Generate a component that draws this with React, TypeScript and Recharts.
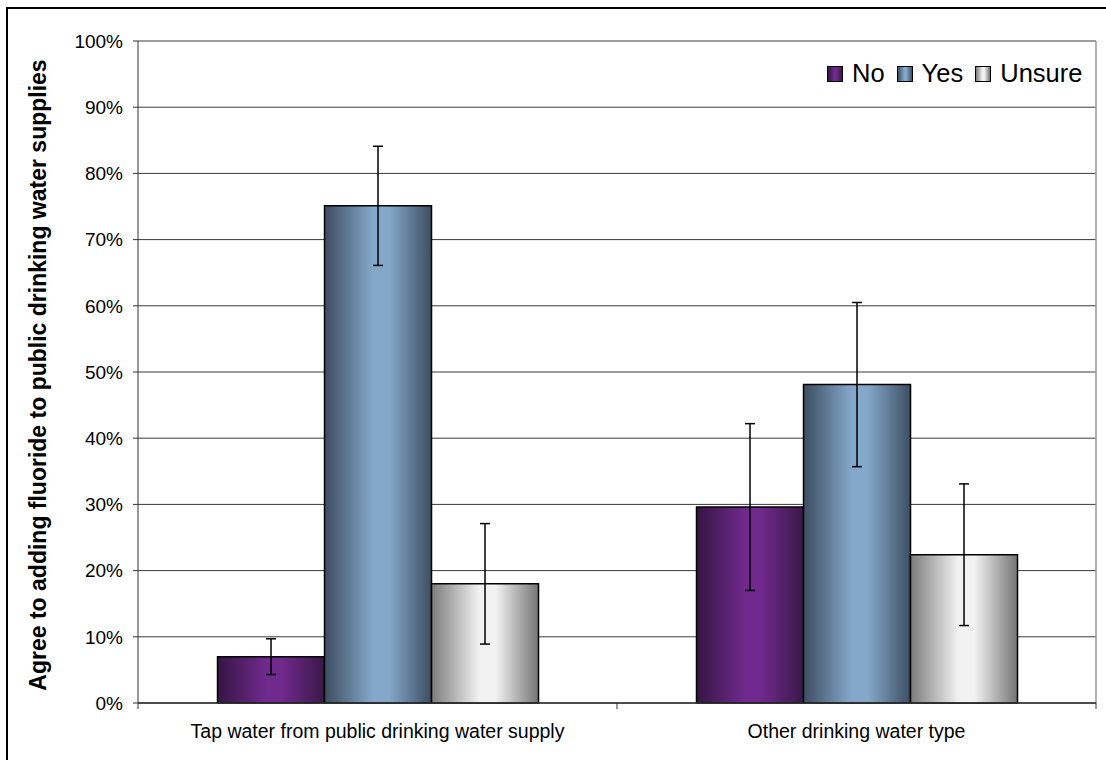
import React from "react";
import {
  BarChart,
  Bar,
  XAxis,
  YAxis,
  CartesianGrid,
  ErrorBar,
  Legend,
  Label,
} from "recharts";

const categories = [
  "Tap water from public drinking water supply",
  "Other drinking water type",
];
const noValues = [7.0, 29.6];
const yesValues = [75.1, 48.1];
const unsureValues = [18.0, 22.4];
const noErrors = [2.7, 12.6];
const yesErrors = [9.0, 12.4];
const unsureErrors = [9.1, 10.7];
const yTicks = [0, 10, 20, 30, 40, 50, 60, 70, 80, 90, 100];
const yAxisTitle = "Agree to adding fluoride to public drinking water supplies";

const seriesNames = ["No", "Yes", "Unsure"];

const data = categories.map((c, i) => ({
  category: c,
  No: noValues[i],
  Yes: yesValues[i],
  Unsure: unsureValues[i],
  noErr: [noErrors[i], noErrors[i]],
  yesErr: [yesErrors[i], yesErrors[i]],
  unsureErr: [unsureErrors[i], unsureErrors[i]],
}));

const FONT = '"Liberation Sans", Arial, sans-serif';

const gradients: Record<string, { edge: string; edge2: string; mid: string }> = {
  No: { edge: "#351543", edge2: "#3a1848", mid: "#70298d" },
  Yes: { edge: "#3d4d60", edge2: "#3d4e61", mid: "#84a8ca" },
  Unsure: { edge: "#7c7c7c", edge2: "#747474", mid: "#f2f2f2" },
};

const cssGrad = (k: string) =>
  `linear-gradient(to right, ${gradients[k].edge} 0%, ${gradients[k].mid} 45%, ${gradients[k].mid} 60%, ${gradients[k].edge2} 100%)`;

const CategoryTick = (props: any) => {
  const { x, y, payload, index } = props;
  const half = payload && payload.offset ? payload.offset : 0;
  return (
    <g>
      {index === 0 && (
        <line x1={x - half} x2={x - half} y1={y} y2={y + 6} stroke="#333" strokeWidth={1} />
      )}
      <line x1={x + half} x2={x + half} y1={y} y2={y + 6} stroke="#333" strokeWidth={1} />
      <text
        x={x}
        y={y + 35}
        textAnchor="middle"
        fontFamily={FONT}
        fontSize={19.5}
        fill="#000"
      >
        {payload.value}
      </text>
    </g>
  );
};

const LegendContent = () => (
  <div style={{ display: "flex", alignItems: "center", fontFamily: FONT, fontSize: 25.5, color: "#000", whiteSpace: "nowrap" }}>
    {seriesNames.map((n) => (
      <div key={n} style={{ display: "flex", alignItems: "center", marginRight: 12 }}>
        <div
          style={{
            width: 14,
            height: 14,
            border: "1px solid #000",
            background: cssGrad(n),
            marginRight: 9,
          }}
        />
        <span>{n}</span>
      </div>
    ))}
  </div>
);

const YTitle = (props: any) => {
  const vb = props.viewBox || { x: 0, y: 0, width: 0, height: 0 };
  const cx = vb.x + 38;
  const cy = vb.y + vb.height / 2 + 3;
  return (
    <text
      x={cx}
      y={cy}
      transform={`rotate(-90, ${cx}, ${cy})`}
      textAnchor="middle"
      dominantBaseline="central"
      fontFamily={FONT}
      fontWeight="bold"
      fontSize={23}
      fill="#000"
    >
      {yAxisTitle}
    </text>
  );
};

export default function App() {
  return (
    <div
      style={{
        position: "fixed",
        left: 0,
        top: 0,
        width: 1106,
        height: 760,
        overflow: "hidden",
        background: "#fff",
      }}
    >
      <div
        style={{
          position: "absolute",
          left: 6,
          top: 7,
          width: 1200,
          height: 900,
          border: "2px solid #000",
        }}
      />
      <div style={{ position: "absolute", left: 0, top: 0 }}>
        <BarChart
          width={1106}
          height={760}
          data={data}
          margin={{ top: 41, right: 10, bottom: 0, left: 0 }}
          barCategoryGap="16.6%"
          barGap={0}
        >
          <defs>
            {seriesNames.map((n) => (
              <linearGradient key={n} id={`grad-${n}`} x1="0" y1="0" x2="1" y2="0">
                <stop offset="0%" stopColor={gradients[n].edge} />
                <stop offset="45%" stopColor={gradients[n].mid} />
                <stop offset="60%" stopColor={gradients[n].mid} />
                <stop offset="100%" stopColor={gradients[n].edge2} />
              </linearGradient>
            ))}
          </defs>
          <CartesianGrid
            vertical={false}
            horizontal={true}
            stroke="#3a3a3a"
            strokeWidth={1}
          />
          <CartesianGrid
            vertical={true}
            horizontal={false}
            stroke="#999"
            strokeWidth={1.5}
            verticalCoordinatesGenerator={(p: any) =>
              p && p.offset ? [p.offset.left + p.offset.width] : []
            }
          />
          <XAxis
            dataKey="category"
            tickLine={false}
            tickSize={0}
            tickMargin={0}
            axisLine={{ stroke: "#333", strokeWidth: 1.5 }}
            tick={<CategoryTick />}
            interval={0}
            height={57}
          />
          <YAxis
            width={138}
            domain={[0, 100]}
            ticks={yTicks}
            tickFormatter={(v: number) => `${v}%`}
            tickSize={5}
            tickMargin={10}
            tickLine={{ stroke: "#333" }}
            axisLine={{ stroke: "#333", strokeWidth: 1 }}
            tick={{ fontFamily: FONT, fontSize: 19, fill: "#000" }}
            interval={0}
          >
            <Label content={<YTitle />} />
          </YAxis>
          <Legend
            layout="horizontal"
            verticalAlign="middle"
            align="center"
            content={<LegendContent />}
            wrapperStyle={{ top: 59, left: 827, right: "auto", width: "auto" }}
          />
          {seriesNames.map((n) => (
            <Bar
              key={n}
              dataKey={n}
              fill={`url(#grad-${n})`}
              stroke="#000"
              strokeWidth={1.5}
              isAnimationActive={false}
            >
              <ErrorBar
                dataKey={n === "No" ? "noErr" : n === "Yes" ? "yesErr" : "unsureErr"}
                width={5}
                stroke="#000"
                strokeWidth={1.5}
                direction="y"
              />
            </Bar>
          ))}
        </BarChart>
      </div>
    </div>
  );
}
